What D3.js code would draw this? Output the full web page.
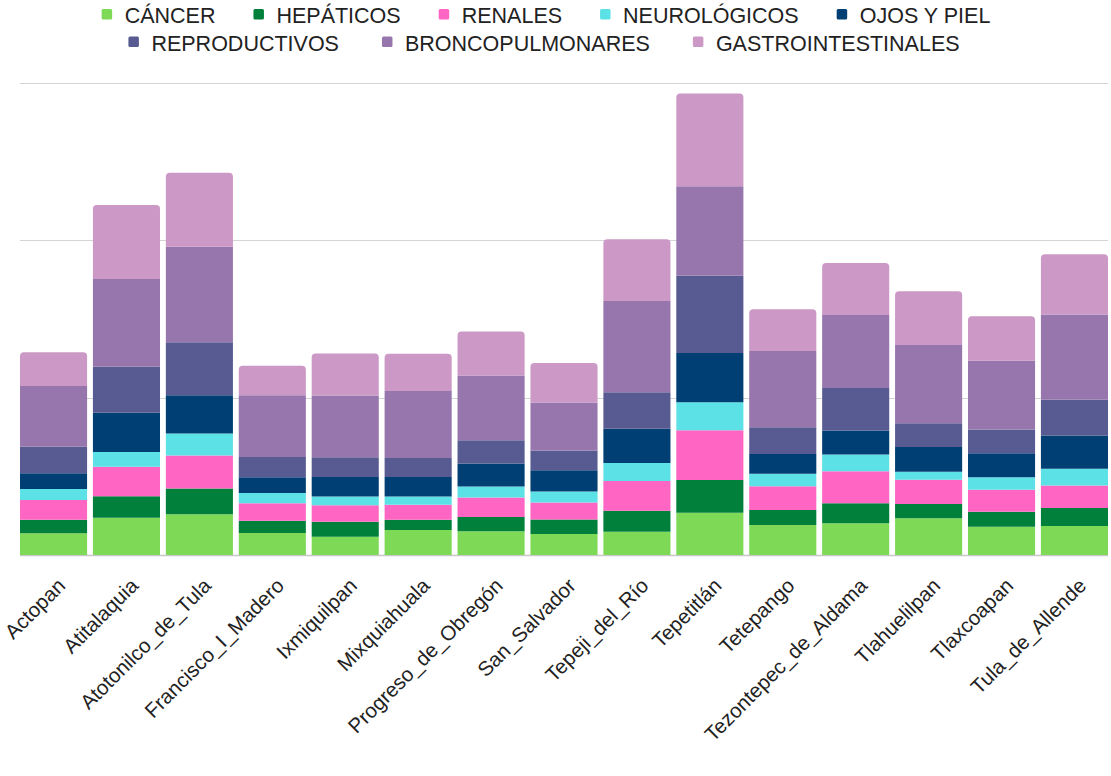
<!DOCTYPE html>
<html>
<head>
<meta charset="utf-8">
<script src="https://cdn.jsdelivr.net/npm/d3@7"></script>
<style>
  html, body { margin: 0; padding: 0; background: #ffffff; }
  svg { display: block; font-family: "Liberation Sans", Arial, sans-serif; }
</style>
</head>
<body>
<svg id="chart" width="1111" height="776"></svg>
<script>
// Municipalities (x categories)
const municipios = [
  "Actopan", "Atitalaquia", "Atotonilco_de_Tula", "Francisco_I_Madero",
  "Ixmiquilpan", "Mixquiahuala", "Progreso_de_Obregón", "San_Salvador",
  "Tepeji_del_Río", "Tepetitlán", "Tetepango", "Tezontepec_de_Aldama",
  "Tlahuelilpan", "Tlaxcoapan", "Tula_de_Allende"
];

// Series, stacked bottom to top
const cancer      = [13.8, 23.7, 25.9, 14.0, 11.6, 15.9, 15.1, 13.4, 14.8, 26.9, 19.1, 20.2, 23.3, 18.0, 18.4];
const hepaticos   = [8.6, 13.6, 16.3, 7.8, 9.5, 6.5, 9.1, 9.1, 13.4, 20.8, 9.5, 12.7, 9.1, 9.5, 11.4];
const renales     = [12.5, 18.8, 21.0, 11.1, 10.6, 9.5, 12.3, 10.8, 18.9, 31.6, 15.1, 20.3, 15.4, 14.0, 14.4];
const neurologicos = [7.0, 9.3, 14.0, 6.5, 5.5, 5.3, 7.0, 7.0, 11.3, 17.8, 8.0, 10.6, 5.1, 7.9, 10.6];
const ojosPiel    = [10.0, 25.0, 24.4, 10.0, 12.3, 12.3, 14.6, 13.6, 21.8, 31.3, 12.5, 15.3, 15.7, 15.3, 21.2];
const reproductivos = [16.9, 29.2, 33.7, 12.9, 12.7, 12.1, 14.9, 12.5, 23.3, 49.1, 17.0, 27.0, 15.1, 15.0, 22.6];
const broncopulmonares = [38.6, 55.9, 60.6, 39.2, 39.2, 42.6, 41.1, 30.5, 58.0, 56.8, 48.5, 46.4, 49.8, 43.7, 54.3];
const gastrointestinales = [21.4, 46.9, 47.0, 18.8, 26.7, 23.7, 28.0, 25.2, 39.2, 59.1, 26.5, 33.1, 34.1, 28.4, 38.3];

const seriesNames = ["CÁNCER", "HEPÁTICOS", "RENALES", "NEUROLÓGICOS", "OJOS Y PIEL",
                     "REPRODUCTIVOS", "BRONCOPULMONARES", "GASTROINTESTINALES"];
const seriesValues = [cancer, hepaticos, renales, neurologicos, ojosPiel,
                      reproductivos, broncopulmonares, gastrointestinales];
const seriesColors = ["#7ed957", "#00803a", "#ff66c4", "#5ce1e6", "#003f74",
                      "#585b91", "#9676ad", "#cc98c5"];
const gridTicks = [0, 100, 200, 300];

// Table for d3.stack
const keys = seriesNames;
const table = municipios.map((m, i) => {
  const row = { municipio: m };
  keys.forEach((k, j) => { row[k] = seriesValues[j][i]; });
  return row;
});

const svg = d3.select("#chart");
const plot = { left: 20, right: 1108, top: 83, bottom: 555 };

const x = d3.scaleBand()
  .domain(municipios)
  .range([plot.left, plot.right])
  .paddingInner(0.08)
  .paddingOuter(0);

const y = d3.scaleLinear()
  .domain([0, 300])
  .range([plot.bottom, plot.top]);

const color = d3.scaleOrdinal().domain(keys).range(seriesColors);

// Horizontal gridlines
svg.append("g")
  .selectAll("line")
  .data(gridTicks.slice(1))
  .join("line")
  .attr("x1", plot.left)
  .attr("x2", plot.right)
  .attr("y1", d => Math.round(y(d)) + 0.5)
  .attr("y2", d => Math.round(y(d)) + 0.5)
  .attr("stroke", "#d4d4d4")
  .attr("stroke-width", 1);

// Baseline
svg.append("line")
  .attr("x1", plot.left)
  .attr("x2", plot.right)
  .attr("y1", y(0) + 0.5)
  .attr("y2", y(0) + 0.5)
  .attr("stroke", "#c8c8c8")
  .attr("stroke-width", 1.5);

const stacked = d3.stack().keys(keys)(table);
const topKey = keys[keys.length - 1];
const r = 4;

function segPath(x0, w, yTop, yBot, rounded) {
  if (!rounded) {
    return `M${x0},${yBot}V${yTop}H${x0 + w}V${yBot}Z`;
  }
  return `M${x0},${yBot}V${yTop + r}Q${x0},${yTop} ${x0 + r},${yTop}` +
         `H${x0 + w - r}Q${x0 + w},${yTop} ${x0 + w},${yTop + r}V${yBot}Z`;
}

svg.append("g")
  .selectAll("g")
  .data(stacked)
  .join("g")
  .attr("fill", d => color(d.key))
  .each(function(layer) {
    d3.select(this).selectAll("path")
      .data(layer)
      .join("path")
      .attr("d", d => segPath(x(d.data.municipio), x.bandwidth(), y(d[1]), y(d[0]),
                              layer.key === topKey));
  });

// Rotated category labels
svg.append("g")
  .selectAll("text")
  .data(municipios)
  .join("text")
  .attr("transform", d => `translate(${x(d) + x.bandwidth() / 2 + 13},587) rotate(-45)`)
  .attr("text-anchor", "end")
  .attr("font-size", 20.5)
  .attr("fill", "#222")
  .text(d => d);

// Legend, two centered rows
const legendRows = [keys.slice(0, 5), keys.slice(5)];
const legendBaselines = [23, 50.5];
const legendCenters = [546, 544];
const legendGaps = [38, 43];
const sw = 10.5, swGap = 12.5;

legendRows.forEach((rowKeys, ri) => {
  const g = svg.append("g");
  let cursor = 0;
  rowKeys.forEach((k, i) => {
    const item = g.append("g").attr("transform", `translate(${cursor},0)`);
    item.append("rect")
      .attr("x", 0)
      .attr("y", legendBaselines[ri] - 14)
      .attr("width", sw)
      .attr("height", sw)
      .attr("rx", 1.5)
      .attr("fill", color(k));
    const t = item.append("text")
      .attr("x", sw + swGap)
      .attr("y", legendBaselines[ri])
      .attr("font-size", 21.5)
      .attr("fill", "#222")
      .text(k);
    cursor += sw + swGap + t.node().getComputedTextLength() + legendGaps[ri];
  });
  const total = cursor - legendGaps[ri];
  g.attr("transform", `translate(${legendCenters[ri] - total / 2},0)`);
});
</script>
</body>
</html>
